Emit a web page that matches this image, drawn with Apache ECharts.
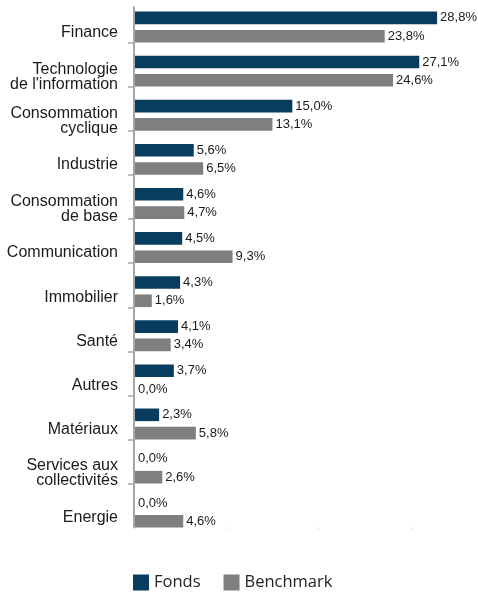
<!DOCTYPE html>
<html><head><meta charset="utf-8">
<script src="https://cdn.jsdelivr.net/npm/echarts@6/dist/echarts.min.js"></script>
<style>html,body{margin:0;padding:0;background:#fff}#c{width:478px;height:596px}</style>
</head><body><div id="c"></div>
<script>
const categories = ['Finance', "Technologie\nde l'information", 'Consommation\ncyclique', 'Industrie', 'Consommation\nde base', 'Communication', 'Immobilier', 'Santé', 'Autres', 'Matériaux', 'Services aux\ncollectivités', 'Energie'];
const fonds = [28.8, 27.1, 15.0, 5.6, 4.6, 4.5, 4.3, 4.1, 3.7, 2.3, 0.0, 0.0];
const benchmark = [23.8, 24.6, 13.1, 6.5, 4.7, 9.3, 1.6, 3.4, 0.0, 5.8, 2.6, 4.6];
const seriesNames = ['Fonds', 'Benchmark'];
const xTickMarks = [8.8, 17.55, 26.3];
const sepTicks = [1, 2, 3, 4, 5, 6, 7, 8, 9, 10, 11];

const fmt = v => v.toFixed(1).replace('.', ',') + '%';
const chart = echarts.init(document.getElementById('c'), null, {renderer: 'canvas'});
const lbl = {show: true, position: 'right', distance: 3, fontFamily: 'Liberation Sans, Arial, sans-serif', fontSize: 13, color: '#1a1a1a', formatter: p => fmt(p.value)};
chart.setOption({
  animation: false,
  grid: [
    {left: 135, top: 5, width: 314.7, height: 529.2},
    {left: 134, top: 7, width: 315.7, height: 520.6},
    {left: 135, top: 10.5, width: 314.7, height: 529.2}
  ],
  xAxis: [
    {gridIndex: 0, type: 'value', min: 0, max: 30, show: false},
    {gridIndex: 1, type: 'value', min: 0, max: 30, axisLine: {show: false}, splitLine: {show: false}, axisLabel: {show: false},
     axisTick: {show: true, customValues: xTickMarks, length: 1, lineStyle: {color: '#b0b0b0', width: 1}}},
    {gridIndex: 2, type: 'value', min: 0, max: 30, show: false}
  ],
  yAxis: [
    {gridIndex: 0, type: 'category', data: categories, inverse: true, show: false},
    {gridIndex: 1, type: 'value', min: 0, max: 520.6 / 44.06, splitLine: {show: false}, axisLabel: {show: false},
     axisLine: {show: true, lineStyle: {color: '#a6a6a6', width: 2}},
     axisTick: {show: true, customValues: sepTicks, length: 6, lineStyle: {color: '#a6a6a6', width: 1.5}}},
    {gridIndex: 2, type: 'category', data: categories, inverse: true,
     axisLine: {show: false}, axisTick: {show: false}, splitLine: {show: false},
     axisLabel: {margin: 17, fontFamily: 'Liberation Sans, Arial, sans-serif', fontSize: 16, color: '#1a1a1a', lineHeight: 15, align: 'right'}}
  ],
  legend: {
    left: 128, top: 569, itemWidth: 16, itemHeight: 16, itemGap: 23,
    icon: 'rect',
    textStyle: {fontFamily: 'Open Sans', fontSize: 16.5, color: '#222'},
    data: seriesNames
  },
  series: [
    {name: seriesNames[0], type: 'bar', xAxisIndex: 0, yAxisIndex: 0, data: fonds, barWidth: 12.6, barGap: '45%', itemStyle: {color: '#083d60'}, label: lbl},
    {name: seriesNames[1], type: 'bar', xAxisIndex: 0, yAxisIndex: 0, data: benchmark, barWidth: 12.6, barGap: '45%', itemStyle: {color: '#7f7f7f'}, label: lbl}
  ]
});
</script></body></html>
